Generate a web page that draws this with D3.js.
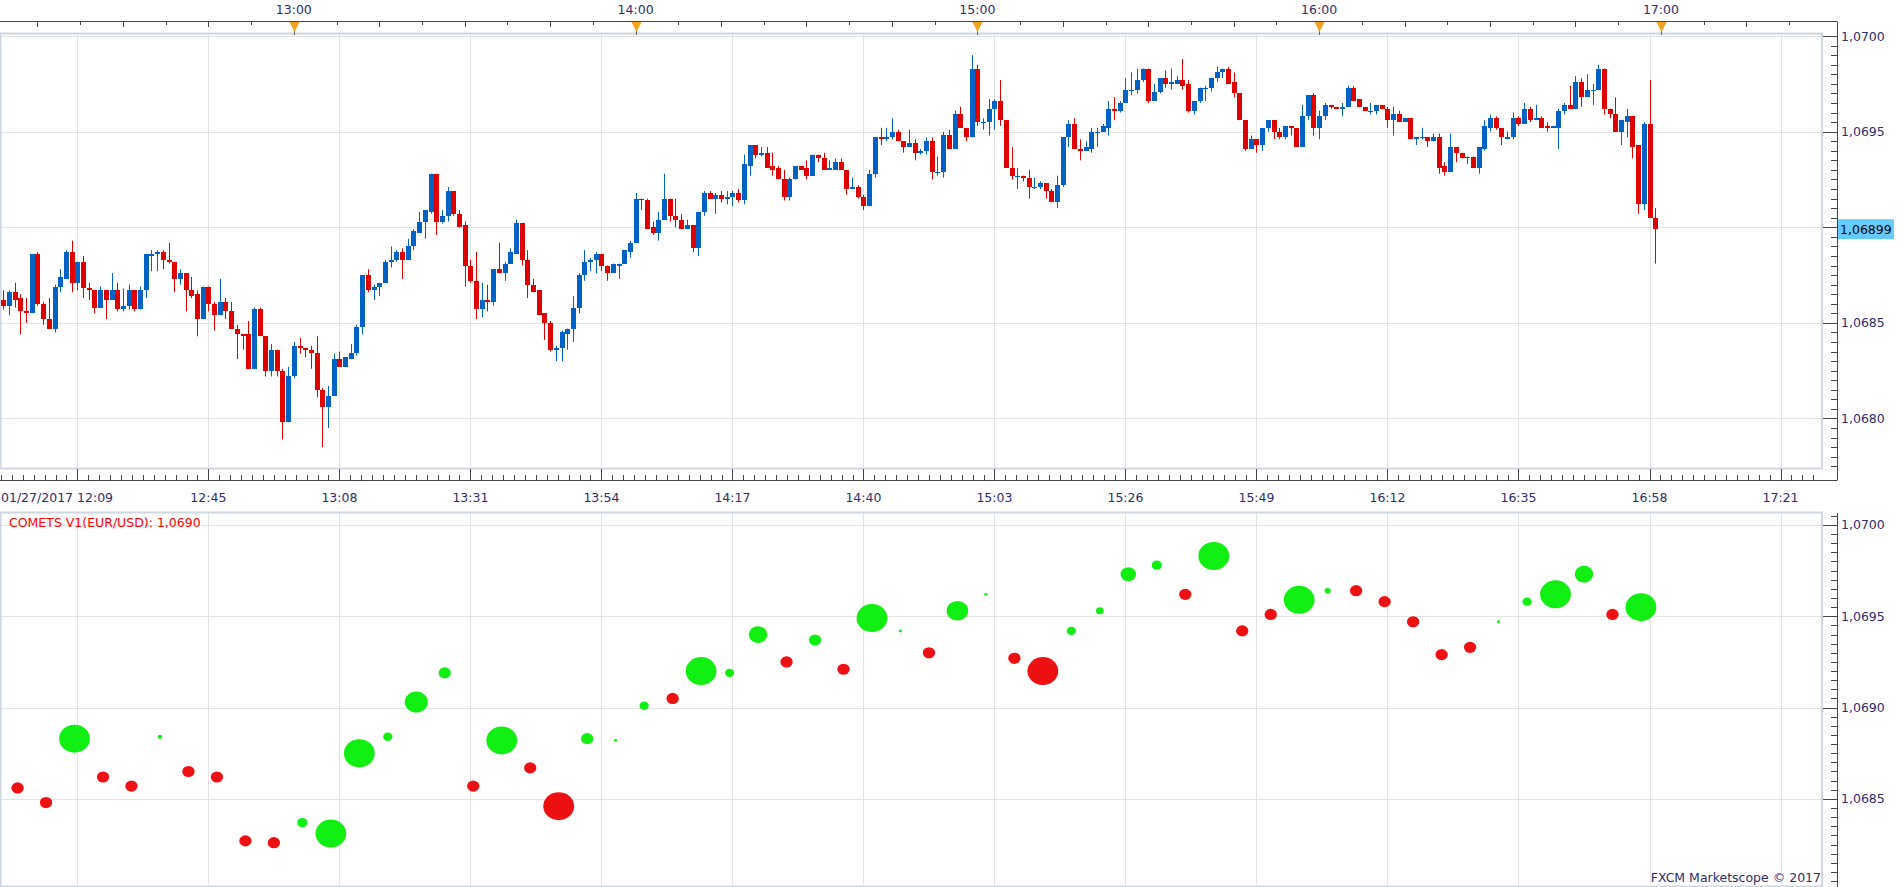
<!DOCTYPE html>
<html>
<head>
<meta charset="utf-8">
<script src="https://cdn.jsdelivr.net/npm/d3@7"></script>
<style>
  body { margin: 0; background: #fff; }
  svg { display: block; font-family: "DejaVu Sans", Verdana, sans-serif; }
</style>
</head>
<body>
<script>
const WIDTH = 1903;
const HEIGHT = 887;

// EUR/USD, 1 minute candles, 01/27/2017 from 12:09
const firstCandle = "12:09:00";
const open = [
  1.06862,1.06859,1.06866,1.06863,1.06856,1.06855,1.06886,1.06860,1.06852,1.06847,
  1.06869,1.06873,1.06887,1.06871,1.06882,1.06868,1.06867,1.06858,1.06867,1.06862,
  1.06867,1.06857,1.06859,1.06867,1.06857,1.06867,1.06885,1.06886,1.06887,1.06883,
  1.06882,1.06873,1.06876,1.06867,1.06865,1.06852,1.06869,1.06860,1.06854,1.06861,
  1.06856,1.06847,1.06844,1.06844,1.06826,1.06857,1.06843,1.06825,1.06836,1.06825,
  1.06798,1.06822,1.06838,1.06837,1.06836,1.06834,1.06815,1.06806,1.06812,1.06831,
  1.06827,1.06831,1.06834,1.06848,1.06875,1.06867,1.06869,1.06871,1.06882,1.06883,
  1.06887,1.06883,1.06890,1.06897,1.06903,1.06908,1.06928,1.06903,1.06906,1.06919,
  1.06907,1.06901,1.06880,1.06872,1.06857,1.06862,1.06861,1.06878,1.06876,1.06881,
  1.06886,1.06902,1.06883,1.06870,1.06867,1.06855,1.06850,1.06836,1.06837,1.06844,
  1.06847,1.06858,1.06875,1.06882,1.06883,1.06886,1.06880,1.06876,1.06880,1.06881,
  1.06887,1.06892,1.06915,1.06914,1.06900,1.06897,1.06904,1.06915,1.06906,1.06904,
  1.06899,1.06901,1.06889,1.06908,1.06918,1.06915,1.06917,1.06915,1.06916,1.06918,
  1.06914,1.06932,1.06943,1.06938,1.06939,1.06932,1.06931,1.06925,1.06916,1.06925,
  1.06932,1.06931,1.06927,1.06938,1.06936,1.06930,1.06930,1.06934,1.06930,1.06920,
  1.06921,1.06916,1.06911,1.06928,1.06947,1.06946,1.06947,1.06950,1.06945,1.06942,
  1.06944,1.06939,1.06940,1.06945,1.06929,1.06929,1.06948,1.06941,1.06959,1.06952,
  1.06947,1.06983,1.06955,1.06955,1.06962,1.06966,1.06956,1.06931,1.06927,1.06927,
  1.06926,1.06921,1.06921,1.06923,1.06919,1.06913,1.06922,1.06947,1.06954,1.06941,
  1.06940,1.06941,1.06950,1.06950,1.06952,1.06962,1.06961,1.06965,1.06972,1.06972,
  1.06977,1.06983,1.06966,1.06971,1.06978,1.06975,1.06975,1.06977,1.06975,1.06961,
  1.06966,1.06973,1.06973,1.06978,1.06981,1.06983,1.06976,1.06970,1.06956,1.06941,
  1.06946,1.06943,1.06952,1.06956,1.06950,1.06947,1.06953,1.06952,1.06942,1.06958,
  1.06969,1.06952,1.06958,1.06964,1.06963,1.06962,1.06963,1.06973,1.06967,1.06963,
  1.06961,1.06961,1.06964,1.06962,1.06956,1.06959,1.06955,1.06957,1.06946,1.06947,
  1.06947,1.06945,1.06947,1.06932,1.06929,1.06942,1.06939,1.06936,1.06937,1.06931,
  1.06941,1.06952,1.06957,1.06952,1.06946,1.06947,1.06957,1.06954,1.06962,1.06956,
  1.06957,1.06953,1.06952,1.06952,1.06961,1.06964,1.06962,1.06976,1.06968,1.06972,
  1.06972,1.06983,1.06962,1.06959,1.06950,1.06955,1.06958,1.06943,1.06912,1.06954,
  1.06905
];
const high = [
  1.06867,1.06867,1.06871,1.06865,1.06863,1.06886,1.06887,1.06861,1.06863,1.06870,
  1.06878,1.06888,1.06893,1.06882,1.06885,1.06871,1.06867,1.06869,1.06867,1.06876,
  1.06871,1.06868,1.06870,1.06867,1.06869,1.06886,1.06888,1.06888,1.06888,1.06892,
  1.06882,1.06878,1.06876,1.06874,1.06867,1.06869,1.06869,1.06861,1.06873,1.06863,
  1.06861,1.06849,1.06844,1.06851,1.06858,1.06858,1.06843,1.06839,1.06836,1.06826,
  1.06827,1.06840,1.06842,1.06837,1.06838,1.06843,1.06816,1.06817,1.06834,1.06835,
  1.06832,1.06839,1.06849,1.06875,1.06878,1.06870,1.06871,1.06883,1.06890,1.06888,
  1.06889,1.06894,1.06899,1.06908,1.06909,1.06928,1.06928,1.06909,1.06921,1.06919,
  1.06909,1.06903,1.06883,1.06887,1.06871,1.06870,1.06878,1.06892,1.06882,1.06889,
  1.06904,1.06902,1.06888,1.06873,1.06867,1.06855,1.06851,1.06838,1.06846,1.06847,
  1.06864,1.06876,1.06888,1.06884,1.06887,1.06886,1.06880,1.06881,1.06881,1.06888,
  1.06893,1.06918,1.06915,1.06915,1.06903,1.06908,1.06928,1.06915,1.06915,1.06907,
  1.06904,1.06901,1.06908,1.06919,1.06919,1.06918,1.06919,1.06919,1.06919,1.06920,
  1.06938,1.06943,1.06943,1.06942,1.06942,1.06939,1.06932,1.06930,1.06926,1.06932,
  1.06932,1.06935,1.06938,1.06938,1.06939,1.06935,1.06936,1.06936,1.06930,1.06926,
  1.06922,1.06917,1.06930,1.06947,1.06952,1.06952,1.06957,1.06951,1.06945,1.06951,
  1.06946,1.06941,1.06947,1.06947,1.06937,1.06950,1.06951,1.06961,1.06963,1.06952,
  1.06990,1.06985,1.06957,1.06967,1.06967,1.06977,1.06956,1.06942,1.06931,1.06927,
  1.06930,1.06926,1.06924,1.06923,1.06920,1.06927,1.06947,1.06956,1.06957,1.06946,
  1.06945,1.06952,1.06952,1.06954,1.06966,1.06968,1.06966,1.06978,1.06981,1.06983,
  1.06983,1.06983,1.06975,1.06978,1.06982,1.06983,1.06979,1.06988,1.06977,1.06966,
  1.06973,1.06974,1.06978,1.06984,1.06983,1.06984,1.06981,1.06970,1.06956,1.06948,
  1.06946,1.06952,1.06956,1.06956,1.06952,1.06953,1.06953,1.06952,1.06964,1.06969,
  1.06970,1.06961,1.06965,1.06964,1.06963,1.06965,1.06974,1.06974,1.06967,1.06963,
  1.06965,1.06964,1.06964,1.06963,1.06963,1.06961,1.06957,1.06957,1.06947,1.06952,
  1.06947,1.06949,1.06949,1.06934,1.06949,1.06942,1.06939,1.06937,1.06937,1.06942,
  1.06956,1.06959,1.06958,1.06952,1.06950,1.06960,1.06958,1.06965,1.06963,1.06964,
  1.06958,1.06955,1.06953,1.06962,1.06965,1.06974,1.06979,1.06978,1.06980,1.06975,
  1.06985,1.06983,1.06962,1.06968,1.06956,1.06962,1.06958,1.06943,1.06955,1.06977,
  1.06910
];
const low = [
  1.06857,1.06854,1.06858,1.06844,1.06850,1.06855,1.06859,1.06849,1.06847,1.06845,
  1.06866,1.06873,1.06866,1.06867,1.06863,1.06862,1.06855,1.06858,1.06852,1.06862,
  1.06856,1.06856,1.06857,1.06856,1.06857,1.06863,1.06877,1.06877,1.06878,1.06881,
  1.06866,1.06870,1.06856,1.06863,1.06843,1.06852,1.06856,1.06846,1.06854,1.06852,
  1.06847,1.06831,1.06836,1.06826,1.06826,1.06843,1.06822,1.06822,1.06822,1.06789,
  1.06798,1.06821,1.06834,1.06832,1.06826,1.06811,1.06785,1.06795,1.06812,1.06827,
  1.06827,1.06831,1.06833,1.06844,1.06866,1.06862,1.06864,1.06871,1.06879,1.06882,
  1.06873,1.06883,1.06888,1.06897,1.06894,1.06907,1.06896,1.06902,1.06903,1.06906,
  1.06900,1.06869,1.06871,1.06852,1.06853,1.06856,1.06859,1.06876,1.06872,1.06881,
  1.06886,1.06880,1.06863,1.06866,1.06854,1.06841,1.06835,1.06830,1.06830,1.06836,
  1.06840,1.06855,1.06872,1.06877,1.06876,1.06877,1.06872,1.06876,1.06873,1.06881,
  1.06884,1.06892,1.06909,1.06899,1.06896,1.06893,1.06904,1.06903,1.06900,1.06899,
  1.06899,1.06887,1.06885,1.06906,1.06915,1.06907,1.06913,1.06912,1.06911,1.06913,
  1.06912,1.06927,1.06936,1.06937,1.06931,1.06927,1.06925,1.06914,1.06914,1.06925,
  1.06930,1.06925,1.06927,1.06934,1.06930,1.06930,1.06930,1.06930,1.06917,1.06920,
  1.06915,1.06909,1.06911,1.06926,1.06943,1.06945,1.06946,1.06945,1.06939,1.06942,
  1.06935,1.06938,1.06938,1.06925,1.06927,1.06926,1.06941,1.06941,1.06952,1.06945,
  1.06947,1.06953,1.06951,1.06948,1.06951,1.06953,1.06931,1.06925,1.06920,1.06924,
  1.06915,1.06920,1.06920,1.06915,1.06913,1.06910,1.06921,1.06942,1.06941,1.06935,
  1.06940,1.06939,1.06942,1.06950,1.06948,1.06956,1.06960,1.06965,1.06969,1.06970,
  1.06976,1.06965,1.06966,1.06970,1.06973,1.06972,1.06975,1.06972,1.06960,1.06959,
  1.06965,1.06966,1.06971,1.06976,1.06978,1.06975,1.06968,1.06956,1.06940,1.06941,
  1.06939,1.06940,1.06950,1.06946,1.06946,1.06946,1.06948,1.06942,1.06942,1.06956,
  1.06948,1.06946,1.06956,1.06962,1.06962,1.06958,1.06963,1.06966,1.06963,1.06961,
  1.06959,1.06959,1.06962,1.06952,1.06948,1.06955,1.06955,1.06946,1.06943,1.06946,
  1.06942,1.06945,1.06928,1.06927,1.06929,1.06934,1.06936,1.06933,1.06931,1.06928,
  1.06940,1.06950,1.06951,1.06943,1.06946,1.06946,1.06953,1.06954,1.06955,1.06956,
  1.06952,1.06950,1.06952,1.06941,1.06959,1.06962,1.06962,1.06963,1.06968,1.06964,
  1.06972,1.06959,1.06957,1.06950,1.06943,1.06947,1.06936,1.06907,1.06909,1.06905,
  1.06881
];
const close = [
  1.06859,1.06866,1.06862,1.06856,1.06855,1.06886,1.06860,1.06852,1.06847,1.06869,
  1.06874,1.06887,1.06871,1.06882,1.06868,1.06867,1.06858,1.06867,1.06862,1.06867,
  1.06857,1.06859,1.06867,1.06857,1.06867,1.06886,1.06886,1.06887,1.06883,1.06882,
  1.06873,1.06876,1.06867,1.06864,1.06852,1.06869,1.06860,1.06854,1.06861,1.06856,
  1.06847,1.06844,1.06843,1.06826,1.06857,1.06843,1.06825,1.06836,1.06825,1.06798,
  1.06822,1.06838,1.06837,1.06836,1.06834,1.06815,1.06806,1.06812,1.06831,1.06827,
  1.06832,1.06834,1.06848,1.06875,1.06867,1.06869,1.06871,1.06882,1.06883,1.06887,
  1.06883,1.06890,1.06898,1.06903,1.06909,1.06928,1.06903,1.06906,1.06919,1.06907,
  1.06900,1.06880,1.06872,1.06857,1.06862,1.06861,1.06878,1.06876,1.06881,1.06887,
  1.06902,1.06883,1.06870,1.06866,1.06854,1.06850,1.06836,1.06837,1.06845,1.06847,
  1.06858,1.06875,1.06882,1.06883,1.06886,1.06880,1.06876,1.06881,1.06881,1.06888,
  1.06892,1.06915,1.06914,1.06899,1.06897,1.06904,1.06915,1.06906,1.06904,1.06899,
  1.06901,1.06889,1.06908,1.06918,1.06915,1.06917,1.06915,1.06916,1.06918,1.06914,
  1.06933,1.06943,1.06938,1.06939,1.06931,1.06930,1.06925,1.06916,1.06925,1.06932,
  1.06930,1.06927,1.06938,1.06936,1.06930,1.06931,1.06934,1.06930,1.06920,1.06921,
  1.06916,1.06911,1.06928,1.06947,1.06946,1.06947,1.06950,1.06945,1.06942,1.06944,
  1.06939,1.06940,1.06945,1.06929,1.06929,1.06948,1.06941,1.06959,1.06952,1.06947,
  1.06983,1.06955,1.06955,1.06962,1.06966,1.06956,1.06931,1.06927,1.06927,1.06926,
  1.06921,1.06921,1.06923,1.06919,1.06913,1.06922,1.06947,1.06954,1.06941,1.06940,
  1.06942,1.06950,1.06950,1.06953,1.06962,1.06961,1.06965,1.06972,1.06972,1.06977,
  1.06983,1.06966,1.06971,1.06978,1.06975,1.06976,1.06977,1.06974,1.06961,1.06966,
  1.06973,1.06973,1.06978,1.06981,1.06983,1.06975,1.06970,1.06956,1.06941,1.06946,
  1.06943,1.06952,1.06956,1.06950,1.06947,1.06953,1.06952,1.06942,1.06958,1.06969,
  1.06952,1.06958,1.06964,1.06963,1.06962,1.06963,1.06973,1.06966,1.06963,1.06961,
  1.06961,1.06964,1.06962,1.06956,1.06959,1.06955,1.06957,1.06946,1.06947,1.06947,
  1.06945,1.06947,1.06931,1.06929,1.06942,1.06939,1.06936,1.06937,1.06931,1.06942,
  1.06953,1.06957,1.06952,1.06947,1.06947,1.06957,1.06954,1.06962,1.06956,1.06957,
  1.06952,1.06952,1.06953,1.06961,1.06964,1.06962,1.06976,1.06968,1.06972,1.06972,
  1.06983,1.06962,1.06959,1.06950,1.06956,1.06958,1.06942,1.06912,1.06954,1.06905,
  1.06899
];

// COMETS V1 indicator, one comet every 5 minutes
const cometTime = [
  "12:11:30","12:16:30","12:21:30","12:26:30","12:31:30","12:36:30","12:41:30","12:46:30","12:51:30","12:56:30",
  "13:01:30","13:06:30","13:11:30","13:16:30","13:21:30","13:26:30","13:31:30","13:36:30","13:41:30","13:46:30",
  "13:51:30","13:56:30","14:01:30","14:06:30","14:11:30","14:16:30","14:21:30","14:26:30","14:31:30","14:36:30",
  "14:41:30","14:46:30","14:51:30","14:56:30","15:01:30","15:06:30","15:11:30","15:16:30","15:21:30","15:26:30",
  "15:31:30","15:36:30","15:41:30","15:46:30","15:51:30","15:56:30","16:01:30","16:06:30","16:11:30","16:16:30",
  "16:21:30","16:26:30","16:31:30","16:36:30","16:41:30","16:46:30","16:51:30","16:56:30"
];
const cometValue = [
  1.06856,1.06848,1.06883,1.06862,1.06857,1.06884,1.06865,1.06862,1.06827,1.06826,
  1.06837,1.06831,1.06875,1.06884,1.06903,1.06919,1.06857,1.06882,1.06867,1.06846,
  1.06883,1.06882,1.06901,1.06905,1.06920,1.06919,1.06940,1.06925,1.06937,1.06921,
  1.06949,1.06942,1.06930,1.06953,1.06962,1.06927,1.06920,1.06942,1.06953,1.06973,
  1.06978,1.06962,1.06983,1.06942,1.06951,1.06959,1.06964,1.06964,1.06958,1.06947,
  1.06929,1.06933,1.06947,1.06958,1.06962,1.06973,1.06951,1.06955
];
// comet strength (size), sign gives the colour: + green, - red
const cometStrength = [
  -4,-4,10,-4,-4,1.5,-4,-4,-4,-4,
  3.3,10,10,3,7.5,4,-4,10,-4,-10,
  4,1,3,-4,10,3,6,-4,4,-4,
  10,1,-4,7,1,-4,-10,3,2.5,5,
  3.3,-4,10,-4,-4,10,2,-4,-4,-4,
  -4,-4,1,3,10,6,-4,10
];

const cometLabel = "COMETS V1(EUR/USD): 1,0690";
const lastPrice = 1.06899;
const credit = "FXCM Marketscope \u00a9 2017";

// layout
const plotRight = 1822;
const axisX = 1837;
const top1 = 33, bottom1 = 468;
const top2 = 512, bottom2 = 886;

const parseT = d3.timeParse("%H:%M:%S");
const x = d3.scaleTime()
  .domain([parseT("12:08:25"), parseT("17:28:17")])
  .range([0, plotRight]);
const yTop = d3.scaleLinear().domain([1.067741, 1.070016]).range([bottom1, top1]);
const yBot = d3.scaleLinear().domain([1.068023, 1.070071]).range([bottom2, top2]);
const rScale = d3.scaleLinear().domain([0, 10]).range([0, 14]);

const fmt = (v) => d3.format(".4f")(v).replace(".", ",");
const TXT = "#2d2d6e";
const GRID = "#e3e3e3";
const FRAME = "#cfd8e2";

const t0 = parseT(firstCandle);
const candles = open.map((o, i) => ({
  t: d3.timeMinute.offset(t0, i), o, h: high[i], l: low[i], c: close[i]
}));
const comets = cometTime.map((s, i) => ({
  t: parseT(s), v: cometValue[i], s: cometStrength[i]
}));

const SVG = d3.select("body").append("svg")
  .attr("width", WIDTH).attr("height", HEIGHT)
  .style("font-size", "12.5px");

const px = (v) => Math.round(v) + 0.5;

// vertical grid: every 23 minutes from 12:22
const gridTimes = d3.range(13, 330, 23).map((m) => d3.timeMinute.offset(t0, m))
  .filter((t) => x(t) < plotRight);
const minorTimes = d3.range(13 - 23, 330, 23 / 12).map((m) => new Date(+t0 + m * 60000))
  .filter((t) => x(t) >= 0 && x(t) < plotRight);

[[top1, bottom1, yTop], [top2, bottom2, yBot]].forEach(([t, b, y]) => {
  const g = SVG.append("g");
  g.selectAll("line.v").data(gridTimes).join("line")
    .attr("x1", (d) => px(x(d))).attr("x2", (d) => px(x(d)))
    .attr("y1", t).attr("y2", b)
    .attr("stroke", GRID);
  g.selectAll("line.h").data(d3.range(1.0675, 1.0705, 0.0005).filter((v) => y(v) > t && y(v) < b))
    .join("line")
    .attr("x1", 0).attr("x2", plotRight)
    .attr("y1", (d) => px(y(d))).attr("y2", (d) => px(y(d)))
    .attr("stroke", GRID);
  g.append("rect")
    .attr("x", 0.5).attr("y", t + 0.5)
    .attr("width", plotRight - 0.5).attr("height", b - t)
    .attr("fill", "none").attr("stroke", FRAME).attr("stroke-width", 2);
});

// candles
const gc = SVG.append("g");
gc.selectAll("line").data(candles).join("line")
  .attr("x1", (d) => px(x(d.t))).attr("x2", (d) => px(x(d.t)))
  .attr("y1", (d) => yTop(d.h)).attr("y2", (d) => yTop(d.l))
  .attr("stroke", (d) => (d.c >= d.o ? "#0062c4" : "#df0000"))
  .attr("stroke-width", 1);
gc.selectAll("rect").data(candles).join("rect")
  .attr("x", (d) => Math.round(x(d.t)) - 2)
  .attr("width", 5)
  .attr("y", (d) => Math.round(yTop(Math.max(d.o, d.c))))
  .attr("height", (d) => Math.max(1, Math.round(yTop(Math.min(d.o, d.c))) - Math.round(yTop(Math.max(d.o, d.c)))))
  .attr("fill", (d) => (d.c >= d.o ? "#0062c4" : "#df0000"));

// comets
SVG.append("g").selectAll("ellipse").data(comets).join("ellipse")
  .attr("cx", (d) => x(d.t))
  .attr("cy", (d) => yBot(d.v))
  .attr("rx", (d) => rScale(Math.abs(d.s)) * 1.1)
  .attr("ry", (d) => rScale(Math.abs(d.s)))
  .attr("fill", (d) => (d.s > 0 ? "#11ee11" : "#ee1111"));

// top time axis
const ga = SVG.append("g").attr("fill", "none");
ga.append("line").attr("x1", 0).attr("x2", axisX + 0.5).attr("y1", 21.5).attr("y2", 21.5).attr("stroke", "#444");
const q = d3.range(-7.5, 330, 7.5).map((m) => new Date(+parseT("12:00:00") + m * 60000))
  .filter((t) => x(t) > 0 && x(t) < plotRight);
ga.selectAll("line.tk").data(q).join("line")
  .attr("x1", (d) => px(x(d))).attr("x2", (d) => px(x(d)))
  .attr("y1", 22).attr("y2", (d) => (d.getMinutes() % 15 === 0 ? 27 : 25))
  .attr("stroke", "#444");
const hours = x.ticks(d3.timeHour.every(1));
SVG.append("g").selectAll("line").data(hours).join("line")
  .attr("x1", (d) => px(x(d))).attr("x2", (d) => px(x(d)))
  .attr("y1", 29).attr("y2", 35).attr("stroke", "#666");
SVG.append("g").selectAll("path").data(hours).join("path")
  .attr("d", (d) => `M${px(x(d)) - 5},22 L${px(x(d)) + 5},22 L${px(x(d))},32 Z`)
  .attr("fill", "#f6a21e");
SVG.append("g").selectAll("text").data(hours).join("text")
  .attr("x", (d) => x(d)).attr("y", 14)
  .attr("text-anchor", "middle").attr("fill", TXT)
  .text(d3.timeFormat("%H:%M"));

// middle time axis
const gm = SVG.append("g");
gm.append("line").attr("x1", 0).attr("x2", axisX + 0.5).attr("y1", 480.5).attr("y2", 480.5).attr("stroke", "#444");
gm.selectAll("line.mn").data(minorTimes).join("line")
  .attr("x1", (d) => px(x(d))).attr("x2", (d) => px(x(d)))
  .attr("y1", 480).attr("y2", 475).attr("stroke", "#444");
gm.selectAll("line.mj").data(gridTimes).join("line")
  .attr("x1", (d) => px(x(d))).attr("x2", (d) => px(x(d)))
  .attr("y1", 480).attr("y2", 469).attr("stroke", "#444");
gm.selectAll("text").data(gridTimes.slice(1)).join("text")
  .attr("x", (d) => x(d)).attr("y", 502)
  .attr("text-anchor", "middle").attr("fill", TXT)
  .text(d3.timeFormat("%H:%M"));
gm.append("text").attr("x", 1).attr("y", 502).attr("fill", TXT)
  .text("01/27/2017 " + firstCandle.slice(0, 5));

// price axes
[[22, 480, yTop, true], [513, 887, yBot, false]].forEach(([t, b, y, hasLast]) => {
  const g = SVG.append("g");
  g.append("line").attr("x1", axisX + 0.5).attr("x2", axisX + 0.5).attr("y1", t).attr("y2", b).attr("stroke", "#444");
  const [lo, hi] = y.domain();
  const minor = d3.range(Math.ceil(lo / 0.00005) * 0.00005, hi, 0.00005)
    .filter((v) => y(v) > t + 1 && y(v) < b - 1);
  g.selectAll("line.mn").data(minor).join("line")
    .attr("x1", axisX - 6).attr("x2", axisX)
    .attr("y1", (d) => px(y(d))).attr("y2", (d) => px(y(d)))
    .attr("stroke", "#444");
  const major = d3.range(1.0675, 1.0705, 0.0005).filter((v) => y(v) > t && y(v) < b);
  g.selectAll("line.mj").data(major).join("line")
    .attr("x1", axisX - 14).attr("x2", axisX)
    .attr("y1", (d) => px(y(d))).attr("y2", (d) => px(y(d)))
    .attr("stroke", "#444");
  // labels hidden behind the last price box are not drawn
  const shown = major.filter((v) => !hasLast || Math.abs(y(v) - y(lastPrice)) > 14);
  g.selectAll("text").data(shown).join("text")
    .attr("x", axisX + 4).attr("y", (d) => y(d) + 4.5)
    .attr("fill", TXT).text(fmt);
});

// last price marker
const lp = SVG.append("g");
lp.append("rect").attr("x", axisX + 1).attr("y", yTop(lastPrice) - 10)
  .attr("width", 56).attr("height", 20).attr("fill", "#66ccff");
lp.append("text").attr("x", axisX + 3).attr("y", yTop(lastPrice) + 4.5)
  .attr("fill", "#000").text(d3.format(".5f")(lastPrice).replace(".", ","));

// labels
SVG.append("text").attr("x", 9).attr("y", 527).attr("fill", "#ff0000").text(cometLabel);
SVG.append("text").attr("x", plotRight - 1).attr("y", 882).attr("text-anchor", "end")
  .attr("fill", TXT).text(credit);
</script>
</body>
</html>
